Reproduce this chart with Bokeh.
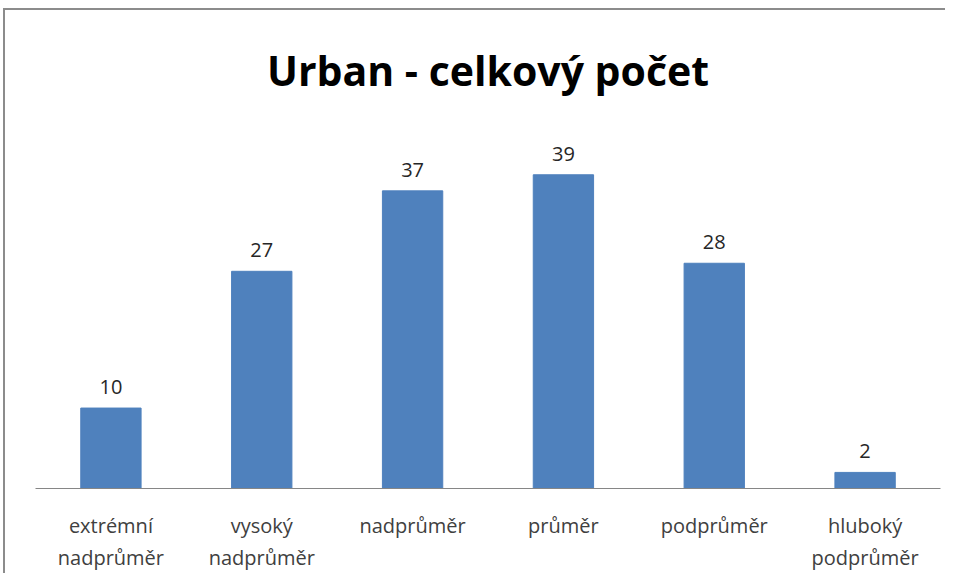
from bokeh.plotting import figure
from bokeh.models import ColumnDataSource, LabelSet, Range1d, Title
from bokeh.core.properties import value
from bokeh.embed import file_html
from bokeh.resources import INLINE

categories = ["extrémní\nnadprůměr", "vysoký\nnadprůměr", "nadprůměr", "průměr", "podprůměr", "hluboký\npodprůměr"]
values = [10, 27, 37, 39, 28, 2]
title_text = "Urban - celkový počet"

src = ColumnDataSource(dict(cat=categories, val=values, lab=[str(v) for v in values]))

W, H = 942, 565
p = figure(x_range=categories, y_range=Range1d(0, 45), width=W, height=H,
           output_backend="svg", toolbar_location=None,
           min_border_left=30, min_border_right=7, min_border_top=114, min_border_bottom=87)
p.margin = (8, 0, 0, 3)
p.styles = {"border-top": "2px solid #8c8c8c", "border-left": "2px solid #8c8c8c"}
p.title = Title(text=title_text, align="center", text_font="Open Sans", text_font_style="bold",
                text_font_size="41px", text_color="#000000", standoff=58)
p.vbar(x="cat", top="val", width=0.4, source=src, color="#4F81BD")
p.add_layout(LabelSet(x="cat", y="val", text="lab", source=src, text_align="center",
                      text_baseline="bottom", y_offset=14, text_font=value("Open Sans"),
                      text_font_size="20px", text_color="#262626"))
p.yaxis.visible = False
p.xgrid.visible = False
p.ygrid.visible = False
p.outline_line_color = None
p.xaxis.axis_line_color = "#868686"
p.xaxis.major_tick_line_color = None
p.xaxis.minor_tick_line_color = None
p.xaxis.major_label_text_font = "Open Sans"
p.xaxis.major_label_text_font_size = "20px"
p.xaxis.major_label_text_color = "#404040"
p.xaxis.major_label_standoff = 17
p.x_range.range_padding = 0

open("out.html", "w").write(file_html(p, INLINE))
